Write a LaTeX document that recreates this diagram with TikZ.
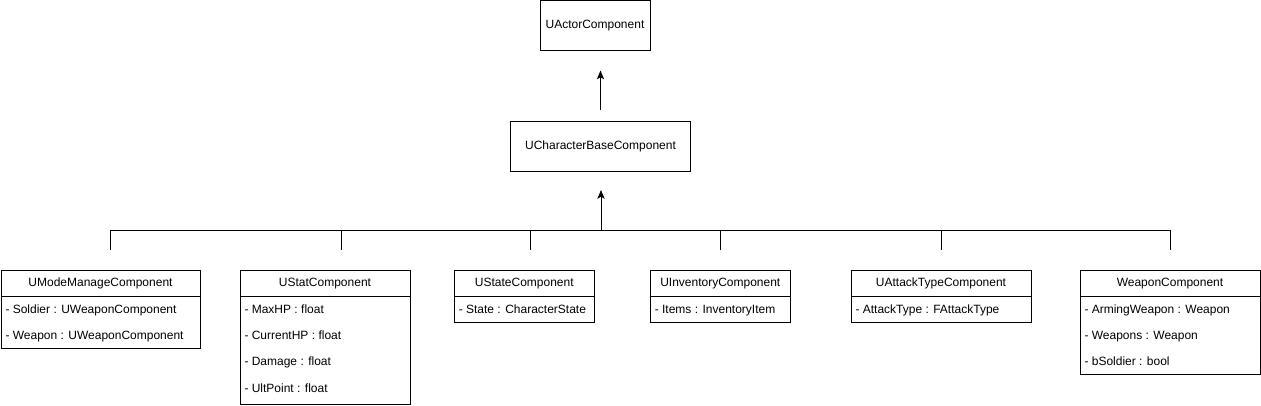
\documentclass[tikz,border=0pt]{standalone}
\usepackage{fontspec}
\setmainfont{Liberation Sans}
\usetikzlibrary{arrows.meta}
\begin{document}
\begin{tikzpicture}[x=0.75pt,y=-0.75pt,line width=0.75pt,
  lbl/.style={font=\fontsize{9pt}{11pt}\selectfont, text height=6.8pt, text depth=2pt},
  box/.style={draw, lbl, line width=0.75pt, inner sep=0pt, outer sep=0pt},
  hdr/.style={box, minimum height=26*0.75pt},
  body/.style={draw, line width=0.75pt, inner sep=0pt, outer sep=0pt, anchor=north},
  attr/.style={lbl, anchor=west, inner xsep=4*0.75pt, inner ysep=0pt},
  conn/.style={line width=0.75pt},
  inh/.style={conn, -{Stealth[length=6.6pt,width=5.4pt,inset=1.6pt]}}
]
\useasboundingbox (0,0) rectangle (1261,405);

% top classes
\node[box, minimum width=110*0.75pt, minimum height=50*0.75pt] (ua) at (595,25.5) {UActorComponent};
\node[box, minimum width=180*0.75pt, minimum height=50*0.75pt] (cb) at (600.5,146) {UCharacterBaseComponent};
\draw[inh, shorten <=11*0.75pt, shorten >=20*0.75pt] (cb.north) -- (cb.north |- ua.south);

% bus
\coordinate (bus) at (601,230);
\draw[inh, shorten >=19*0.75pt] (bus) -- (bus |- cb.south);

% UModeManageComponent
\node[hdr, minimum width=199*0.75pt] (mm) at (100.5,283) {UModeManageComponent};
\node[body, minimum width=199*0.75pt, minimum height=52*0.75pt] (mmb) at (mm.south) {};
\node[attr] (mm1) at (1,310) {- Soldier : UWeaponComponent};
\node[attr] (mm2) at (1,336.3) {- Weapon : UWeaponComponent};

% UStatComponent
\node[hdr, minimum width=170*0.75pt] (st) at (325,283) {UStatComponent};
\node[body, minimum width=170*0.75pt, minimum height=108*0.75pt] (stb) at (st.south) {};
\node[attr] (st1) at (240,310) {- MaxHP : float};
\node[attr] (st2) at (240,336.3) {- CurrentHP : float};
\node[attr] (st3) at (240,362.6) {- Damage : float};
\node[attr] (st4) at (240,389) {- UltPoint : float};

% UStateComponent
\node[hdr, minimum width=140*0.75pt] (ss) at (524.3,283) {UStateComponent};
\node[body, minimum width=140*0.75pt, minimum height=26*0.75pt] (ssb) at (ss.south) {};
\node[attr] (ss1) at (454.3,310) {- State : CharacterState};

% UInventoryComponent
\node[hdr, minimum width=140*0.75pt] (iv) at (720.3,283) {UInventoryComponent};
\node[body, minimum width=140*0.75pt, minimum height=26*0.75pt] (ivb) at (iv.south) {};
\node[attr] (iv1) at (650.3,310) {- Items : InventoryItem};

% UAttackTypeComponent
\node[hdr, minimum width=180*0.75pt] (at) at (941,283) {UAttackTypeComponent};
\node[body, minimum width=180*0.75pt, minimum height=26*0.75pt] (atb) at (at.south) {};
\node[attr] (at1) at (851,310) {- AttackType : FAttackType};

% WeaponComponent
\node[hdr, minimum width=180*0.75pt] (wp) at (1170,283) {WeaponComponent};
\node[body, minimum width=180*0.75pt, minimum height=78*0.75pt] (wpb) at (wp.south) {};
\node[attr] (wp1) at (1080,310) {- ArmingWeapon : Weapon};
\node[attr] (wp2) at (1080,336.3) {- Weapons : Weapon};
\node[attr] (wp3) at (1080,362.6) {- bSoldier : bool};

% drops
\coordinate (d1) at (110.3,250);
\coordinate (d2) at (341,250);
\coordinate (d3) at (530.3,250);
\coordinate (d4) at (720.3,250);
\coordinate (d5) at (941,250);
\coordinate (d6) at (1170.5,250);
\foreach \d in {d1,d2,d3,d4,d5,d6} \draw[conn] (\d) |- (bus);
\end{tikzpicture}
\end{document}
